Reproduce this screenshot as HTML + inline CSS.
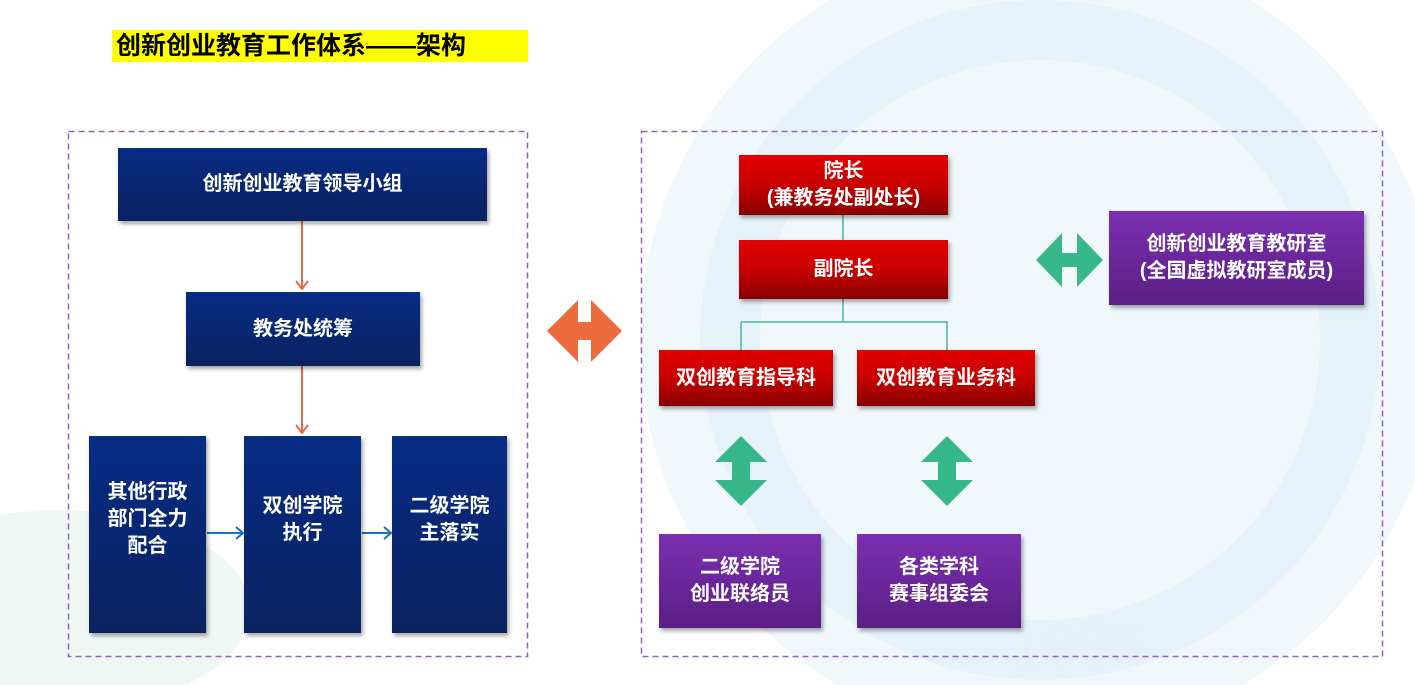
<!DOCTYPE html>
<html><head><meta charset="utf-8"><style>
html,body{margin:0;width:1415px;height:685px;overflow:hidden;}
body{background:#fff;position:relative;font-family:"Liberation Sans","Noto Sans CJK SC",sans-serif;}
.b{position:absolute;display:flex;align-items:center;justify-content:center;text-align:center;color:#fff;font-weight:bold;font-size:20px;line-height:27px;box-shadow:2px 3px 4px rgba(0,0,0,0.35);}
.blue{background:linear-gradient(#062c85,#0b2260);}
.red{background:linear-gradient(#e20000 0%,#c80000 50%,#880000 100%);}
.pur{background:linear-gradient(#7b2fb0,#5a1f85);}
svg{position:absolute;left:0;top:0;}
</style></head><body>
<svg width="1415" height="685">
<circle cx="1040" cy="340" r="400" fill="#f0f8fc"/>
<circle cx="1040" cy="340" r="310" fill="none" stroke="#e6f2f9" stroke-width="60"/>
<ellipse cx="60" cy="610" rx="190" ry="100" fill="#eaf5f1" opacity="0.8"/>
<text x="1010" y="665" font-size="60" fill="#e6f1f7" font-family="Liberation Sans">1985</text>
<rect x="68.5" y="131.5" width="459" height="525" fill="none" stroke="#9460c4" stroke-width="1.5" stroke-dasharray="6,4"/>
<rect x="641.5" y="131.5" width="741" height="525" fill="none" stroke="#9460c4" stroke-width="1.5" stroke-dasharray="6,4"/>
</svg>
<div style="position:absolute;left:112px;top:30px;width:416px;height:32px;background:#ffff00;font-weight:bold;font-size:25px;line-height:32px;padding-left:4px;box-sizing:border-box;">创新创业教育工作体系——架构</div>
<svg width="1415" height="685">
<g stroke="#e96a40" stroke-width="2" fill="none"><line x1="302" y1="221" x2="302" y2="289"/><polyline points="296,281 302,289 308,281"/><line x1="302" y1="366" x2="302" y2="433"/><polyline points="296,425 302,433 308,425"/></g>
<g stroke="#1a73c0" stroke-width="2" fill="none"><line x1="207" y1="533" x2="243" y2="533"/><polyline points="236,527 243,533 236,539"/><line x1="362" y1="533" x2="391" y2="533"/><polyline points="384,527 391,533 384,539"/></g>
<polygon points="547,331 578,300 578,322 591,322 591,300 622,331 591,362 591,340 578,340 578,362" fill="#ec6c3e"/>
<g stroke="#4fb39a" stroke-width="1.5" fill="none"><line x1="843" y1="215" x2="843" y2="240"/><line x1="843" y1="299" x2="843" y2="322"/><line x1="741" y1="322" x2="948" y2="322"/><line x1="741" y1="322" x2="741" y2="350"/><line x1="947" y1="322" x2="947" y2="350"/></g>
<polygon points="1036,260 1062,233 1062,253 1077,253 1077,233 1103,260 1077,287 1077,267 1062,267 1062,287" fill="#36b88a"/>
<polygon points="741,436 767,462 750,462 750,480 767,480 741,506 715,480 732,480 732,462 715,462" fill="#36b88a"/>
<polygon points="947,436 973,462 956,462 956,480 973,480 947,506 921,480 938,480 938,462 921,462" fill="#36b88a"/>
</svg>
<div class="b blue" style="left:118px;top:148px;width:369px;height:73px;">创新创业教育领导小组</div>
<div class="b blue" style="left:186px;top:292px;width:234px;height:74px;">教务处统筹</div>
<div class="b blue" style="left:89px;top:436px;width:117px;height:197px;padding-bottom:30px;box-sizing:border-box;">其他行政<br>部门全力<br>配合</div>
<div class="b blue" style="left:244px;top:436px;width:117px;height:197px;padding-bottom:30px;box-sizing:border-box;">双创学院<br>执行</div>
<div class="b blue" style="left:392px;top:436px;width:115px;height:197px;padding-bottom:30px;box-sizing:border-box;">二级学院<br>主落实</div>
<div class="b red" style="left:739px;top:155px;width:209px;height:60px;">院长<br>(兼教务处副处长)</div>
<div class="b red" style="left:739px;top:240px;width:209px;height:59px;">副院长</div>
<div class="b red" style="left:659px;top:350px;width:174px;height:56px;">双创教育指导科</div>
<div class="b red" style="left:857px;top:350px;width:178px;height:56px;">双创教育业务科</div>
<div class="b pur" style="left:1109px;top:211px;width:255px;height:94px;">创新创业教育教研室<br>(全国虚拟教研室成员)</div>
<div class="b pur" style="left:659px;top:534px;width:162px;height:94px;">二级学院<br>创业联络员</div>
<div class="b pur" style="left:857px;top:534px;width:164px;height:94px;">各类学科<br>赛事组委会</div>
</body></html>
